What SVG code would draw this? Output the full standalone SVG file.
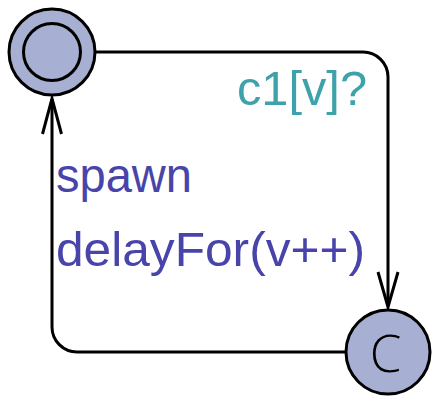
<svg xmlns="http://www.w3.org/2000/svg" width="438" height="404" viewBox="0 0 438 404">
<style>
.loc{fill:#a7afd2;stroke:#000;stroke-width:3}
.edge{fill:none;stroke:#000;stroke-width:3;stroke-linejoin:miter}
.lbl{font-family:"Liberation Sans",Arial,sans-serif;font-size:48px}
.sync{fill:#3ea2aa}
.upd{fill:#4844aa}
</style>
<rect width="438" height="404" fill="#fff"/>
<g id="connectors">
<g id="edge-init-to-c">
<path class="edge" d="M96,52 H363 A25,25 0 0 1 388,77 V306"/>
<polyline class="edge" points="378,272 388,307 398,272"/>
</g>
<g id="edge-c-to-init">
<path class="edge" d="M346,352 H77 A25,25 0 0 1 52,327 V99"/>
<polyline class="edge" points="42.5,134 52,98.5 61.5,134"/>
</g>
</g>
<g id="node-init">
<circle class="loc" cx="52" cy="52" r="43"/>
<circle class="loc" cx="52" cy="52" r="28.5"/>
</g>
<g id="node-committed">
<circle class="loc" cx="388" cy="352" r="42"/>
<text x="385.5" y="372" text-anchor="middle" font-family="'Open Sans','Liberation Sans',sans-serif" font-weight="300" font-size="51" fill="#000">C</text>
</g>
<g id="labels">
<text class="lbl sync" x="237" y="105" textLength="130" lengthAdjust="spacingAndGlyphs">c1[v]?</text>
<text class="lbl upd" x="56" y="192" textLength="136" lengthAdjust="spacingAndGlyphs">spawn</text>
<text class="lbl upd" x="56" y="266" textLength="309" lengthAdjust="spacingAndGlyphs">delayFor(v++)</text>
</g>
</svg>
